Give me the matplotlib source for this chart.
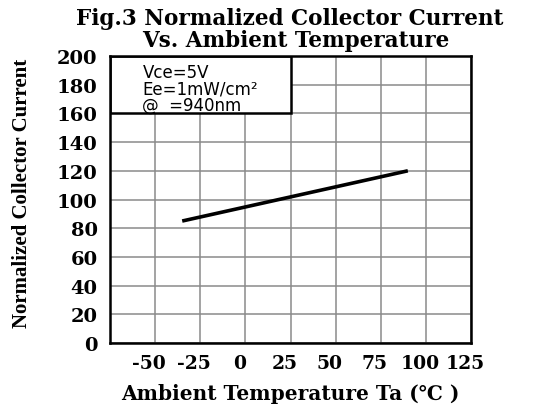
import matplotlib
matplotlib.use("Agg")
import matplotlib.pyplot as plt
from matplotlib.patches import Rectangle
from matplotlib.transforms import ScaledTranslation

# data
temp = [-35, 90]
current = [85, 120]
xticks = [-50, -25, 0, 25, 50, 75, 100, 125]
yticks = [0, 20, 40, 60, 80, 100, 120, 140, 160, 180, 200]
notes = ["Vce=5V", "Ee=1mW/cm²", "@  =940nm"]

serif = ["DejaVu Serif", "DejaVu Sans"]

fig = plt.figure(figsize=(5.42, 4.10), dpi=100)
ax = fig.add_axes([110 / 542, 66 / 410, 361 / 542, 287 / 410])

ax.plot(temp, current, color="black", lw=2.6, zorder=3, solid_capstyle="butt")

ax.set_xlim(-75, 125)
ax.set_ylim(0, 200)
ax.set_xticks(xticks)
ax.set_yticks(yticks)
ax.set_xticklabels([str(t) for t in xticks], family=serif, weight="bold", fontsize=13.5)
ax.set_yticklabels([str(t) for t in yticks], family=serif, weight="bold", fontsize=14)
ax.tick_params(length=0, pad=9)
ax.tick_params(axis="x", pad=8)
# labels under the x axis sit a little left of their grid lines
shift = ScaledTranslation(-6 / 100, 0, fig.dpi_scale_trans)
for lab in ax.get_xticklabels():
    lab.set_transform(lab.get_transform() + shift)

ax.set_axisbelow(True)
ax.grid(color="#8a8a8a", lw=1.1)
for s in ax.spines.values():
    s.set_linewidth(1.8)

# condition box in the upper-left corner
ax.add_patch(Rectangle((-75, 160), 100, 40, facecolor="white", edgecolor="black",
                       lw=1.8, zorder=2))
for i, line in enumerate(notes):
    ax.text(-57, 195 - i * 11.5, line, family="DejaVu Sans", fontsize=12,
            va="top", ha="left", zorder=4)

fig.text(290 / 542, 1 - 19 / 410, "Fig.3 Normalized Collector Current",
         family=serif, weight="bold", fontsize=15.5, ha="center", va="center")
fig.text(296 / 542, 1 - 41 / 410, "Vs. Ambient Temperature",
         family=serif, weight="bold", fontsize=15.5, ha="center", va="center")

ax.set_xlabel("Ambient Temperature Ta (℃ )", family=serif, weight="bold",
              fontsize=14.5, labelpad=8)
fig.text(22 / 542, 1 - 193 / 410, "Normalized Collector Current", rotation=90,
         family=["Liberation Serif", "DejaVu Serif"], weight="bold", fontsize=15,
         ha="center", va="center")

fig.savefig("out.png", dpi=100)
